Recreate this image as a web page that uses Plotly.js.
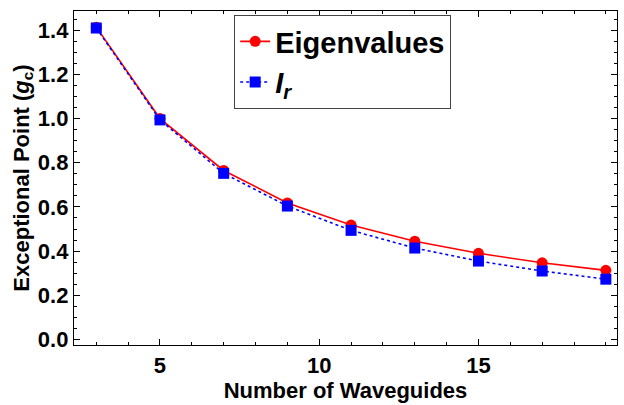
<!DOCTYPE html>
<html>
<head>
<meta charset="utf-8">
<script src="https://cdn.plot.ly/plotly-3.0.1.min.js"></script>
<style>html,body{margin:0;padding:0;background:#fff;}#chart{width:624px;height:405px;}</style>
</head>
<body>
<div id="chart"></div>
<script>
var waveguides = [3, 5, 7, 9, 11, 13, 15, 17, 19];
var eigenvalues = [1.414, 1.0, 0.765, 0.618, 0.518, 0.445, 0.390, 0.347, 0.313];
var irValues = [1.410, 0.994, 0.752, 0.604, 0.494, 0.414, 0.355, 0.310, 0.273];
var xTickVals = [5, 10, 15];
var yTickVals = [0.0, 0.2, 0.4, 0.6, 0.8, 1.0, 1.2, 1.4];
var yTickText = ['0.0', '0.2', '0.4', '0.6', '0.8', '1.0', '1.2', '1.4'];

var font = 'Liberation Sans, Arial, sans-serif';

var traces = [
  {
    x: waveguides, y: eigenvalues, name: 'Eigenvalues',
    mode: 'lines+markers', type: 'scatter',
    line: {color: '#ff0000', width: 1.6},
    marker: {symbol: 'circle', size: 11, color: '#ff0000'}
  },
  {
    x: waveguides, y: irValues, name: '<i>I</i><sub><i>r</i></sub>',
    mode: 'lines+markers', type: 'scatter',
    line: {color: '#0000ff', width: 1.6, dash: 'dot'},
    marker: {symbol: 'square', size: 11, color: '#0000ff'}
  }
];

var axisCommon = {
  showgrid: false, zeroline: false, showline: true, linecolor: '#000', linewidth: 1.2,
  mirror: 'allticks', ticks: 'inside', ticklen: 6, tickwidth: 1, tickcolor: '#000',
  automargin: false,
  tickfont: {family: font, size: 22, color: '#000', weight: 'bold'}
};

var layout = {
  width: 624, height: 405,
  margin: {l: 74, r: 7, t: 11, b: 60},
  paper_bgcolor: '#fff', plot_bgcolor: '#fff',
  showlegend: true,
  xaxis: Object.assign({}, axisCommon, {
    range: [2.3, 19.35],
    tickvals: xTickVals,
    minor: {dtick: 1, tick0: 0, ticklen: 3, tickcolor: '#000', ticks: 'inside'},
    title: {text: 'Number of Waveguides', font: {family: font, size: 22, color: '#000', weight: 'bold'}, standoff: 4}
  }),
  yaxis: Object.assign({}, axisCommon, {
    range: [-0.025, 1.487],
    tickvals: yTickVals, ticktext: yTickText,
    ticklabelstandoff: 0,
    minor: {dtick: 0.05, tick0: 0, ticklen: 3, tickcolor: '#000', ticks: 'inside'},
    title: {text: 'Exceptional Point (<i>g</i><sub>c</sub>)', font: {family: font, size: 22, color: '#000', weight: 'bold'}, standoff: 2}
  }),
  legend: {
    x: 0.295, y: 0.988, xanchor: 'left', yanchor: 'top',
    bgcolor: '#fff', bordercolor: '#444', borderwidth: 1,
    font: {family: font, size: 29, color: '#000', weight: 'bold'},
    itemwidth: 30, tracegroupgap: 0
  }
};

Plotly.newPlot('chart', traces, layout, {displayModeBar: false, staticPlot: true});
</script>
</body>
</html>
